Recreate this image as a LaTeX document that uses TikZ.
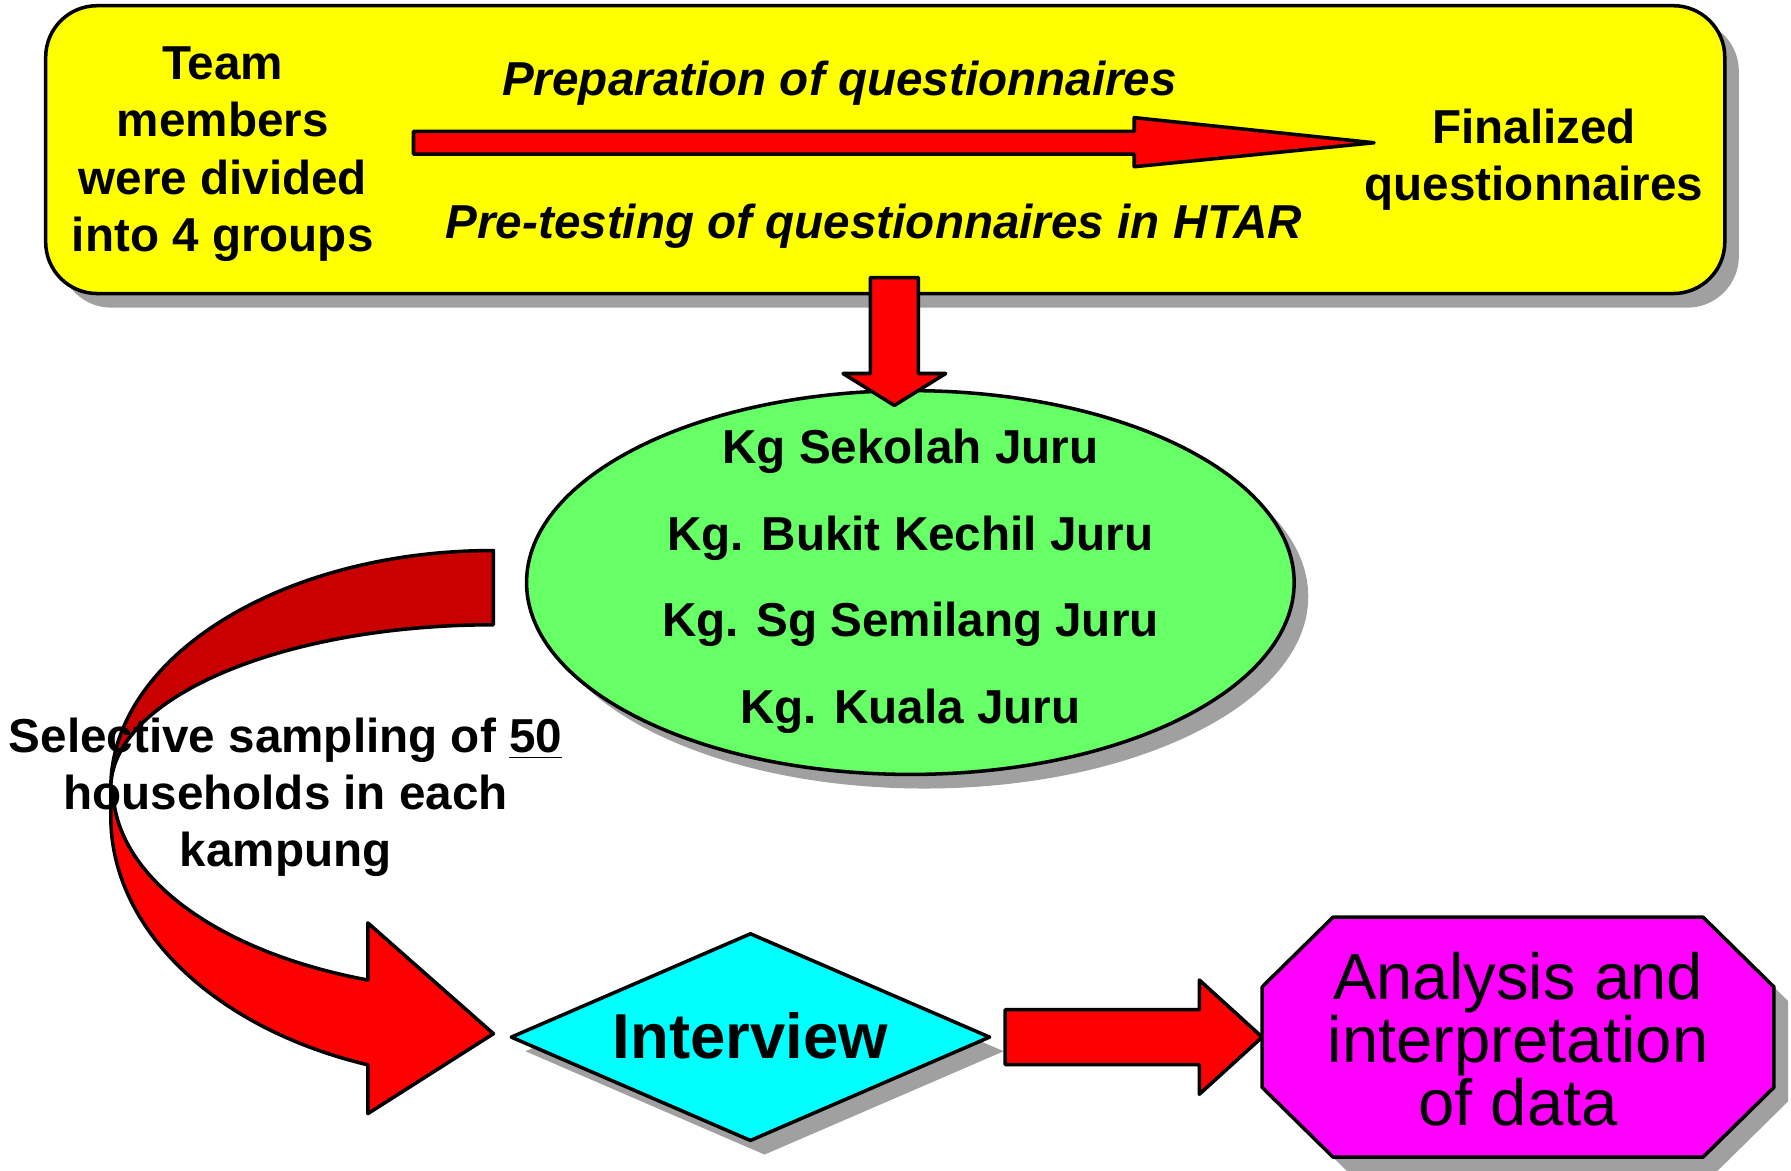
\documentclass[tikz,border=0pt]{standalone}
\usepackage{fontspec}
\setmainfont{Liberation Sans}
\usepackage{tikz}
\usetikzlibrary{calc,shapes.geometric,shadows}

\definecolor{boxyellow}{RGB}{255,255,0}
\definecolor{kggreen}{RGB}{102,255,102}
\definecolor{iwcyan}{RGB}{0,255,255}
\definecolor{anmagenta}{RGB}{255,0,255}
\definecolor{arrowred}{RGB}{255,0,0}
\definecolor{backred}{RGB}{200,0,0}
\definecolor{shadowgray}{RGB}{160,160,160}

\tikzset{
  shade box/.style={drop shadow={shadow xshift=4pt,shadow yshift=-4pt,fill=shadowgray,opacity=1}},
  outline/.style={draw=black,line width=1pt,line join=round},
  block/.style={outline,fill=arrowred},
  boldtext/.style={font=\fontsize{13.5}{16.2}\selectfont\bfseries,align=center},
  italtext/.style={font=\fontsize{13.5}{16.2}\selectfont\bfseries\itshape},
}

\begin{document}
\begin{tikzpicture}[x=0.3238pt,y=0.3238pt]
\useasboundingbox (0,0) rectangle (1568,1025);
% top box
\node[outline,fill=boxyellow,rounded corners=14.6pt,minimum width=476pt,minimum height=81.6pt,shade box] (topbox) at (775,894) {};
\node[boldtext] (team) at (195,890) {Team\\members\\were divided\\into 4 groups};
\node[italtext] (prep) at (735,952) {Preparation of questionnaires};
\node[italtext] (pretest) at (765,827) {Pre-testing of questionnaires in HTAR};
\node[boldtext] (final) at (1343,885) {Finalized\\questionnaires};
\coordinate (P1) at (362,900);
\coordinate (P2) at (1203,900);
\draw[block] ($(P1)+(0,10)$) -- (993,910) -- (993,922) -- (P2) -- (993,879) -- (993,890) -- ($(P1)+(0,-10)$) -- cycle;
% down to the kampungs
\node[ellipse,outline,fill=kggreen,minimum width=217.6pt,minimum height=108.8pt,inner sep=0,shade box] (kg) at (797,515) {};
\node[font=\fontsize{13.5}{24.6}\selectfont\bfseries,align=center] (kglist) at (797,516)
  {Kg Sekolah Juru\\Kg. Bukit Kechil Juru\\Kg. Sg Semilang Juru\\Kg. Kuala Juru};
\coordinate (D1) at (783,782);
\coordinate (D2) at (783,670);
\draw[block] ($(D1)+(-21,0)$) -- (762,698) -- (738,698) -- (D2) -- (828,698) -- (804,698) -- ($(D1)+(21,0)$) -- cycle;
% curved arrow
\coordinate (L) at (97,335);
\draw[block] (L) -- (97,310) arc[start angle=180,end angle=250.85,x radius=335,y radius=230]
  -- (322,50) -- (432,120) -- (322,217) -- (322,167)
  arc[start angle=250.85,end angle=180,x radius=332,y radius=178] -- cycle;
\draw[outline,fill=backred] (432,543) arc[start angle=90,end angle=180,x radius=335,y radius=208]
  arc[start angle=180,end angle=90,x radius=335,y radius=143] -- cycle;
\node[boldtext] (sampling) at (250,327) {Selective sampling of \underline{50}\\households in each\\kampung};
% interview and analysis
\node[diamond,outline,fill=iwcyan,shape aspect=2.3,inner sep=0,minimum width=136pt,minimum height=59pt,shade box,font=\fontsize{18}{20}\selectfont\bfseries] (interview) at (657,117) {\raisebox{1pt}{Interview}};
\draw[outline,fill=anmagenta,shade box] (1167,222) -- (1491,222) -- (1553,161) -- (1553,73) -- (1491,12) -- (1167,12) -- (1105,73) -- (1105,161) -- cycle;
\node[font=\fontsize{18.5}{17.8}\selectfont,align=center] (analysis) at (1329,115) {Analysis and\\interpretation\\of data};
\coordinate (R1) at (880,117);
\coordinate (R2) at (1105,117);
\draw[block] ($(R1)+(0,24)$) -- (1050,141) -- (1050,167) -- (R2) -- (1050,67) -- (1050,93) -- ($(R1)+(0,-24)$) -- cycle;
\end{tikzpicture}
\end{document}
